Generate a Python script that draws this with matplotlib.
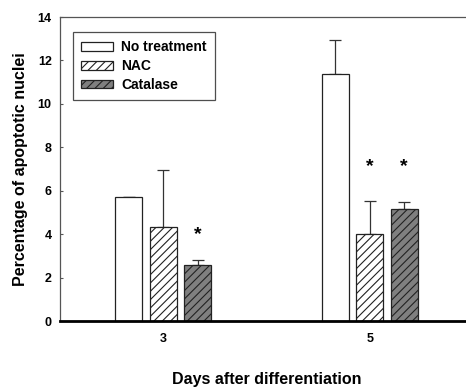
import matplotlib
matplotlib.use("Agg")
import matplotlib.pyplot as plt
import numpy as np

days = ["3", "5"]
groups = ["No treatment", "NAC", "Catalase"]
no_treatment = [5.70, 11.38]
no_treatment_err = [0.03, 1.54]
nac = [4.35, 4.02]
nac_err = [2.62, 1.51]
catalase = [2.57, 5.16]
catalase_err = [0.23, 0.31]
star_series = ["Catalase", "NAC", "Catalase"]
star_day = [0, 1, 1]
star_y = [3.96, 7.1, 7.1]

plt.rcParams['font.family'] = ['Liberation Sans', 'DejaVu Sans']
plt.rcParams['font.weight'] = 'bold'
plt.rcParams['hatch.linewidth'] = 0.8

fig = plt.figure(figsize=(4.66, 3.88), dpi=100)
W, H = 466, 388
left, right, top, bottom = 60, 473, 17, 321
ax = fig.add_axes([left / W, (H - bottom) / H, (right - left) / W, (bottom - top) / H])

x = np.arange(len(days))
width = 0.132
offset = 0.167
styles = [
    dict(facecolor="white", hatch=None),
    dict(facecolor="white", hatch="////"),
    dict(facecolor="#7f7f7f", hatch="////"),
]
series = [(no_treatment, no_treatment_err), (nac, nac_err), (catalase, catalase_err)]
positions = {}
for i, (name, (vals, errs), st) in enumerate(zip(groups, series, styles)):
    xs = x + (i - 1) * offset
    positions[name] = xs
    ax.bar(xs, vals, width, facecolor=st["facecolor"], hatch=st["hatch"],
           edgecolor="#222222", linewidth=0.9, label=name, zorder=2)
    ax.errorbar(xs, vals, yerr=[np.zeros(len(errs)), errs], fmt="none",
                ecolor="#333333", elinewidth=0.9, capsize=4.5, capthick=0.9, zorder=1)

for s, d, yv in zip(star_series, star_day, star_y):
    ax.text(positions[s][d], yv, "*", ha="center", va="center", fontsize=14,
            fontweight="bold")

ax.set_xlim(-0.5, 1.5)
ax.set_ylim(0, 14)
ax.set_yticks(np.arange(0, 15, 2))
ax.set_xticks(x)
ax.set_xticklabels(days)
ax.tick_params(axis="y", direction="in", length=2.5, width=0.8, color="#555555",
               labelsize=9, pad=6)
ax.tick_params(axis="x", length=0, labelsize=9, pad=9)
for lab in ax.get_xticklabels() + ax.get_yticklabels():
    lab.set_fontweight("bold")

for sp in ["top", "left", "right"]:
    ax.spines[sp].set_color("#555555")
    ax.spines[sp].set_linewidth(0.9)
ax.spines["bottom"].set_linewidth(2.0)
ax.spines["bottom"].set_color("black")

ax.set_ylabel("Percentage of apoptotic nuclei", fontsize=11.5, fontweight="bold", labelpad=7)
ax.set_xlabel("Days after differentiation", fontsize=11.5, fontweight="bold", labelpad=19)

leg = ax.legend(loc="upper left", bbox_to_anchor=(0.0315, 0.951), borderaxespad=0,
                fontsize=10, frameon=True, fancybox=False, edgecolor="#222222",
                handlelength=2.3, handleheight=0.6, handletextpad=0.55,
                labelspacing=0.35, borderpad=0.6)
leg.get_frame().set_linewidth(0.9)
for t in leg.get_texts():
    t.set_fontweight("bold")

fig.savefig("out.png", dpi=100)
